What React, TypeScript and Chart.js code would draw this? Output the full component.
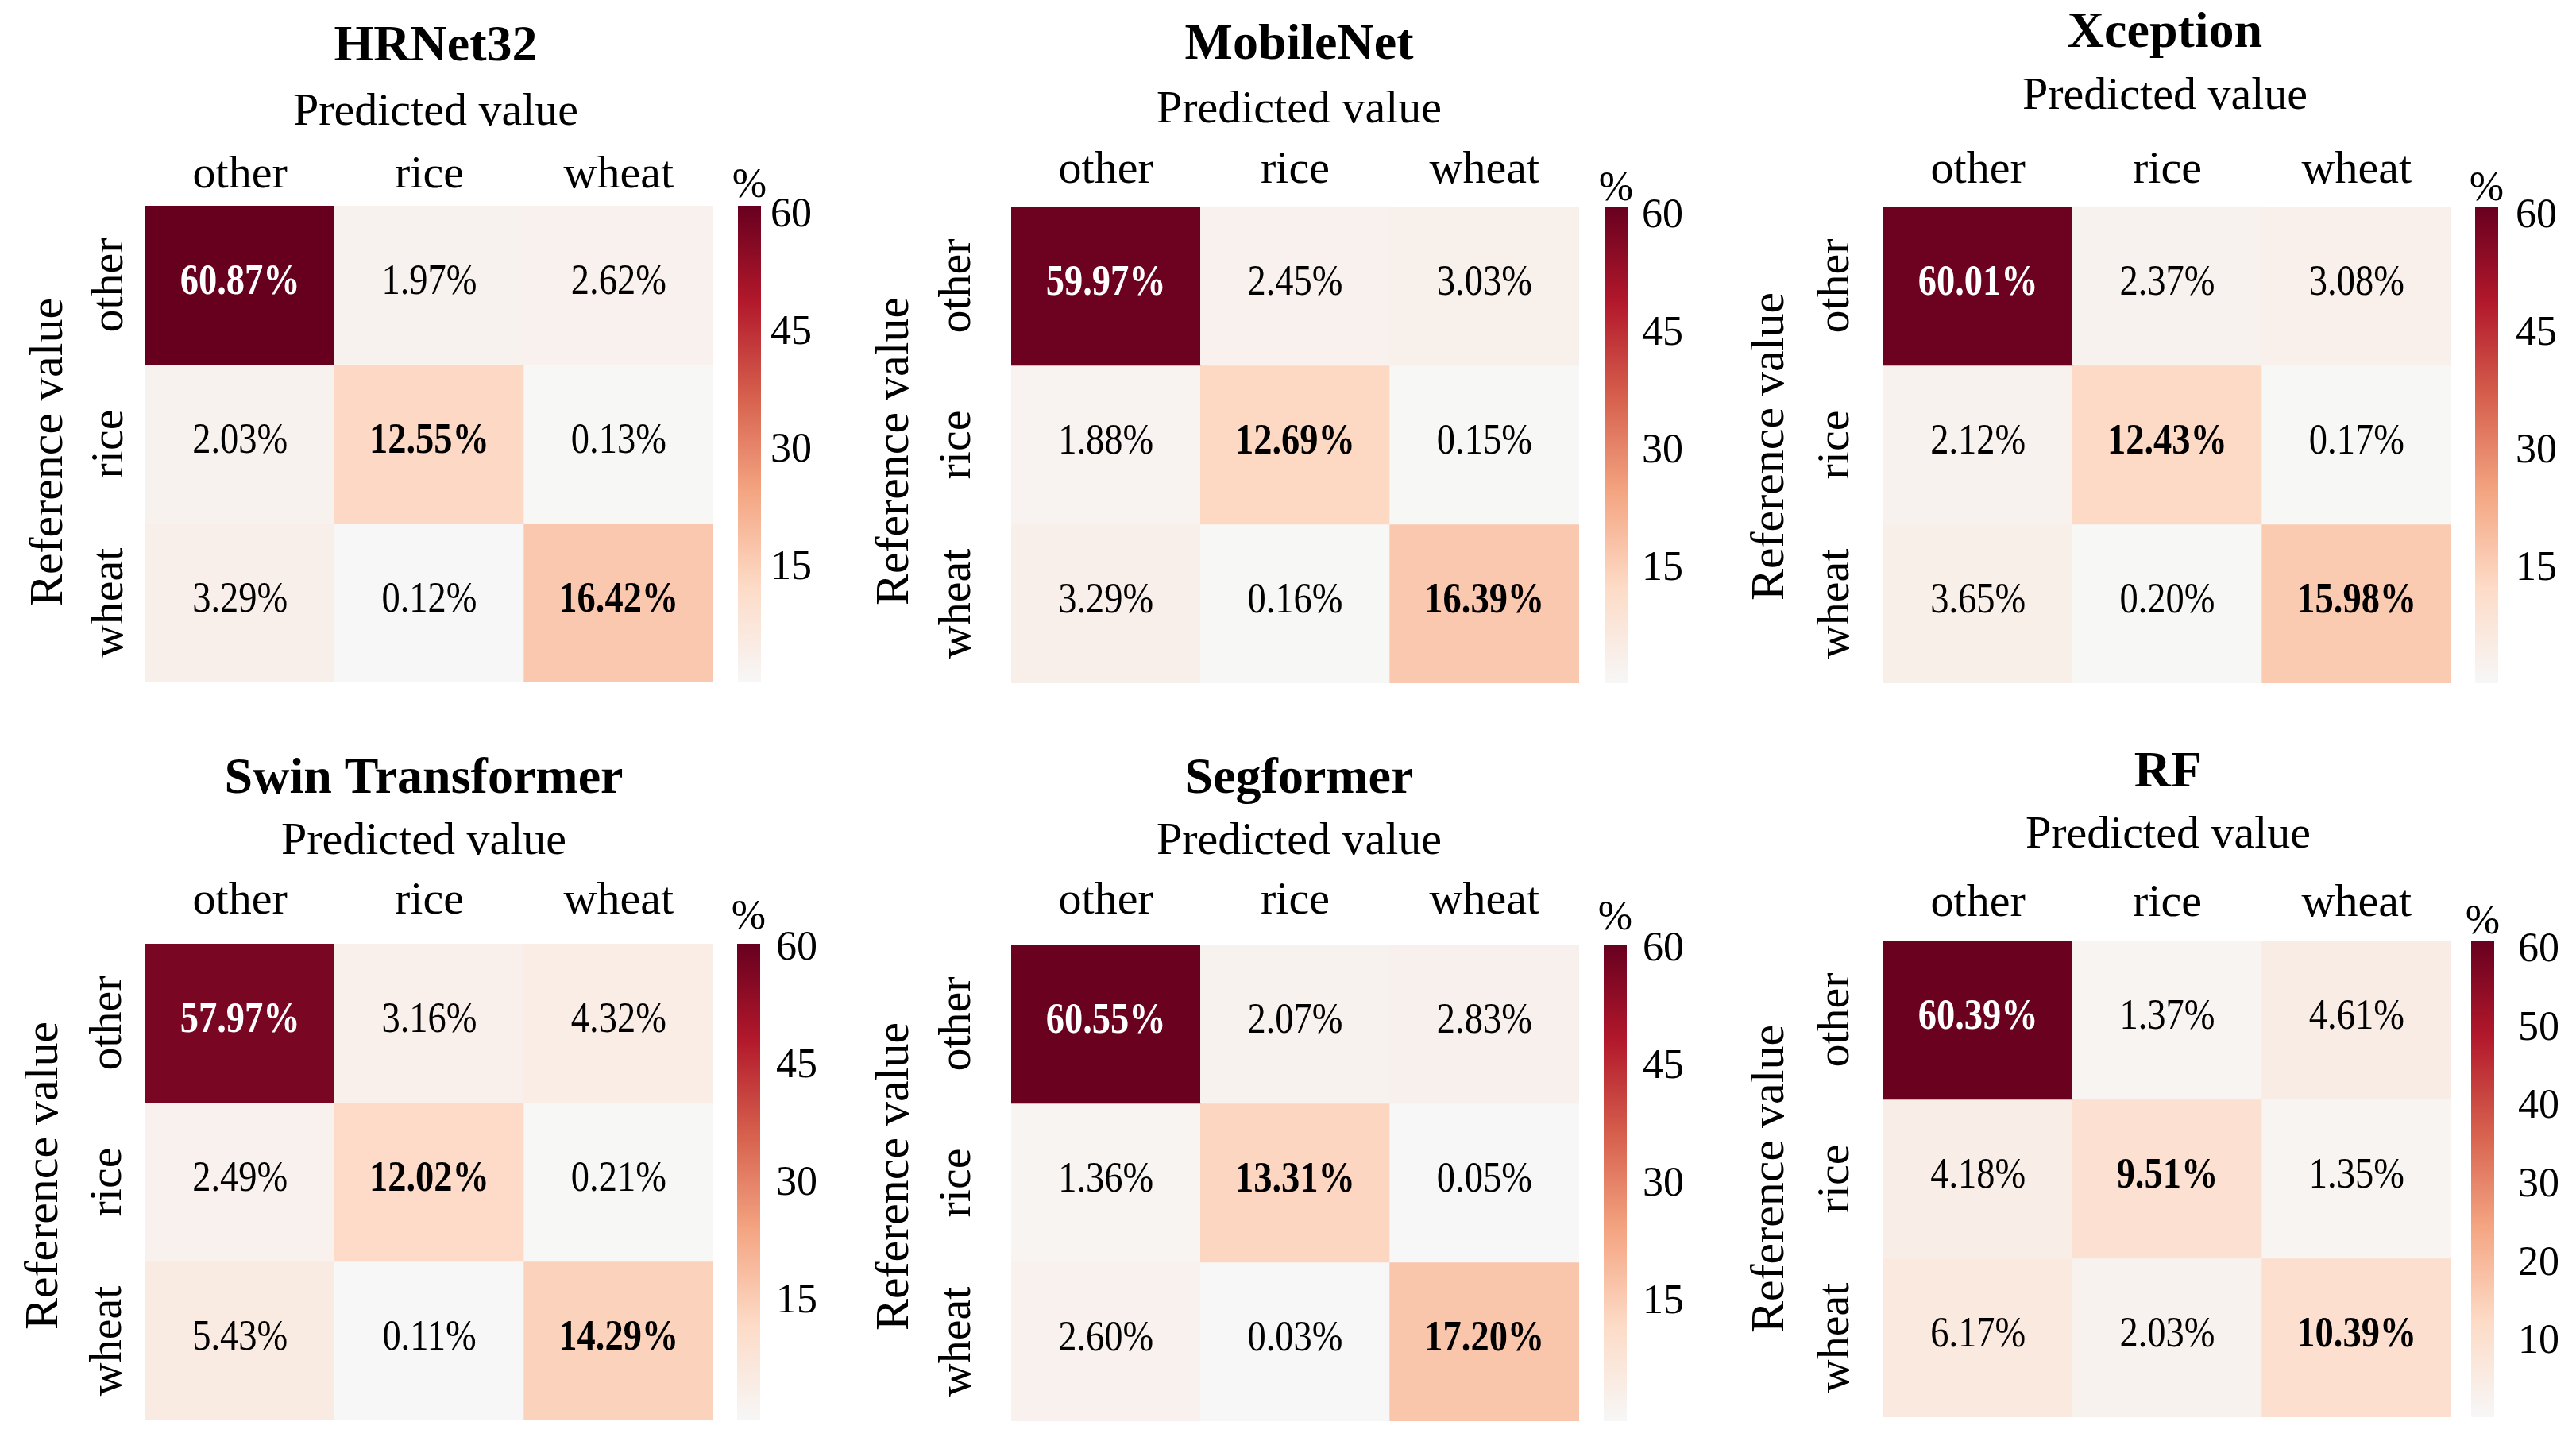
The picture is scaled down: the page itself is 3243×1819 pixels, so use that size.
import React, { useEffect, useRef } from 'react';
import { Chart, registerables } from 'chart.js';

Chart.register(...registerables);

// ---------------- data ----------------
const categories = ['other', 'rice', 'wheat'];
const modelNames = ['HRNet32', 'MobileNet', 'Xception', 'Swin Transformer', 'Segformer', 'RF'];

const hrnet32Values = [
  [60.87, 1.97, 2.62],
  [2.03, 12.55, 0.13],
  [3.29, 0.12, 16.42],
];
const mobileNetValues = [
  [59.97, 2.45, 3.03],
  [1.88, 12.69, 0.15],
  [3.29, 0.16, 16.39],
];
const xceptionValues = [
  [60.01, 2.37, 3.08],
  [2.12, 12.43, 0.17],
  [3.65, 0.2, 15.98],
];
const swinTransformerValues = [
  [57.97, 3.16, 4.32],
  [2.49, 12.02, 0.21],
  [5.43, 0.11, 14.29],
];
const segformerValues = [
  [60.55, 2.07, 2.83],
  [1.36, 13.31, 0.05],
  [2.6, 0.03, 17.2],
];
const rfValues = [
  [60.39, 1.37, 4.61],
  [4.18, 9.51, 1.35],
  [6.17, 2.03, 10.39],
];

const deepColorbarTicks = [15, 30, 45, 60];
const rfColorbarTicks = [10, 20, 30, 40, 50, 60];

const xAxisTitle = 'Predicted value';
const yAxisTitle = 'Reference value';
const colorbarUnit = '%';

const allValues = [hrnet32Values, mobileNetValues, xceptionValues, swinTransformerValues, segformerValues, rfValues];
const allTicks = [deepColorbarTicks, deepColorbarTicks, deepColorbarTicks, deepColorbarTicks, deepColorbarTicks, rfColorbarTicks];

// shared colour range for all panels
const COLOR_MIN = 0;
const COLOR_MAX = Math.max(...allValues.flat(2));

// ---------------- styling / layout ----------------
const SERIF = "'Liberation Serif', 'Times New Roman', Times, serif";
const CMAP = ['#f7f7f7', '#fddbc7', '#f4a582', '#d6604d', '#b2182b', '#67001f'];

const HM_W = 715;
const HM_H = 600;
const CB_W = 29;

const LAYOUT = [
  { left: 183, top: 259, titleDy: 183, subDy: 102, colDy: 18, titleDx: 8, rowDx: 44, refDx: 121, refDy: 10, cbLeft: 929, tickPad: 12, unitDy: 11, tickOff: 4 },
  { left: 1273, top: 260, titleDy: 186, subDy: 106, colDy: 25, titleDx: 5, rowDx: 67, refDx: 146, refDy: 8, cbLeft: 2020, tickPad: 18, unitDy: 8, tickOff: 4 },
  { left: 2371, top: 260, titleDy: 201, subDy: 123, colDy: 25, titleDx: -3, rowDx: 59, refDx: 142, refDy: 2, cbLeft: 3116, tickPad: 22, unitDy: 8, tickOff: 4 },
  { left: 183, top: 1188, titleDy: 190, subDy: 113, colDy: 33, titleDx: -7, rowDx: 46, refDx: 127, refDy: -8, cbLeft: 928, tickPad: 20, unitDy: 19, tickOff: -2 },
  { left: 1273, top: 1189, titleDy: 191, subDy: 114, colDy: 34, titleDx: 5, rowDx: 67, refDx: 146, refDy: -8, cbLeft: 2019, tickPad: 20, unitDy: 19, tickOff: -2 },
  { left: 2371, top: 1184, titleDy: 194, subDy: 117, colDy: 26, titleDx: 1, rowDx: 59, refDx: 142, refDy: 0, cbLeft: 3111, tickPad: 30, unitDy: 9, tickOff: 4 },
];

function hexToRgb(h: string): number[] {
  const n = parseInt(h.slice(1), 16);
  return [(n >> 16) & 255, (n >> 8) & 255, n & 255];
}
const CMAP_RGB = CMAP.map(hexToRgb);

function cmapRgb(t: number): number[] {
  const tt = Math.max(0, Math.min(1, t));
  const n = CMAP_RGB.length - 1;
  const p = tt * n;
  const i = Math.min(Math.floor(p), n - 1);
  const f = p - i;
  const a = CMAP_RGB[i];
  const b = CMAP_RGB[i + 1];
  return [0, 1, 2].map((k) => Math.round(a[k] + (b[k] - a[k]) * f));
}

function rgbStr(c: number[]) {
  return `rgb(${c[0]},${c[1]},${c[2]})`;
}

function luminance(c: number[]) {
  const lin = c.map((v) => {
    const s = v / 255;
    return s <= 0.03928 ? s / 12.92 : Math.pow((s + 0.055) / 1.055, 2.4);
  });
  return 0.2126 * lin[0] + 0.7152 * lin[1] + 0.0722 * lin[2];
}

const HM_PAD_LEFT = 200;
const HM_PAD_TOP = 270;
const X_AXIS_H = 100;

function Panel({ index }: { index: number }) {
  const hmRef = useRef<HTMLCanvasElement | null>(null);
  const cbRef = useRef<HTMLCanvasElement | null>(null);
  const values = allValues[index];
  const name = modelNames[index];
  const lay = LAYOUT[index];
  const tickValues = allTicks[index];

  const vmin = COLOR_MIN;
  const vmax = COLOR_MAX;

  const hmCanvasLeft = lay.left - HM_PAD_LEFT;
  const hmCanvasTop = lay.top - HM_PAD_TOP;
  const hmCanvasW = HM_W + HM_PAD_LEFT + 10;
  const hmCanvasH = HM_H + HM_PAD_TOP + 10;

  const cbPadTop = 80;
  const cbPadBottom = 80;
  const cbPadLeft = 30;
  const cbAxisW = 110;
  const cbCanvasLeft = lay.cbLeft - cbPadLeft;
  const cbCanvasTop = lay.top - cbPadTop;
  const cbCanvasW = cbPadLeft + CB_W + cbAxisW;
  const cbCanvasH = HM_H + cbPadTop + cbPadBottom;

  useEffect(() => {
    if (!hmRef.current || !cbRef.current) return;

    const colorOf = (v: number) => cmapRgb((v - vmin) / (vmax - vmin));

    const annotPlugin = {
      id: 'cmAnnot',
      afterDatasetsDraw(chart: any) {
        const { ctx, chartArea: a, scales } = chart;
        const xs = scales.x;
        const ys = scales.y;
        ctx.save();
        values.forEach((row, i) => {
          row.forEach((v, j) => {
            const cx = xs.getPixelForValue(j);
            const cy = ys.getPixelForValue(i + 0.5);
            const col = colorOf(v);
            ctx.save();
            ctx.translate(cx, cy - 3);
            ctx.scale(0.86, 1);
            ctx.font = `${i === j ? 'bold ' : ''}54px ${SERIF}`;
            ctx.fillStyle = luminance(col) < 0.408 ? '#ffffff' : '#000000';
            ctx.textAlign = 'center';
            ctx.textBaseline = 'middle';
            ctx.fillText(v.toFixed(2) + '%', 0, 0);
            ctx.restore();
          });
        });
        const midX = (a.left + a.right) / 2 + lay.titleDx;
        ctx.fillStyle = '#000';
        ctx.textAlign = 'center';
        ctx.textBaseline = 'alphabetic';
        ctx.font = `bold 64px ${SERIF}`;
        ctx.fillText(name, midX, a.top - lay.titleDy);
        ctx.font = `58px ${SERIF}`;
        ctx.fillText(xAxisTitle, midX, a.top - lay.subDy);
        categories.forEach((cat, i) => {
          ctx.save();
          ctx.translate(a.left - lay.rowDx, ys.getPixelForValue(i + 0.5));
          ctx.rotate(-Math.PI / 2);
          ctx.font = `58px ${SERIF}`;
          ctx.textAlign = 'center';
          ctx.textBaseline = 'middle';
          ctx.fillText(cat, 0, 0);
          ctx.restore();
        });
        ctx.save();
        ctx.translate(a.left - lay.refDx, (a.top + a.bottom) / 2 + lay.refDy);
        ctx.rotate(-Math.PI / 2);
        ctx.font = `60px ${SERIF}`;
        ctx.textAlign = 'center';
        ctx.textBaseline = 'middle';
        ctx.fillText(yAxisTitle, 0, 0);
        ctx.restore();
        ctx.restore();
      },
    };

    const hmChart = new Chart(hmRef.current, {
      type: 'bar',
      data: {
        labels: categories,
        datasets: values.map((row, i) => ({
          data: row.map(() => [i, i + 1]),
          backgroundColor: row.map((v) => rgbStr(colorOf(v))),
          borderWidth: 0,
          grouped: false,
          barPercentage: 1,
          categoryPercentage: 1,
        })) as any,
      },
      options: {
        responsive: false,
        animation: false,
        events: [],
        layout: { padding: { left: HM_PAD_LEFT, right: 10, top: HM_PAD_TOP - X_AXIS_H, bottom: 10 } },
        plugins: { legend: { display: false }, tooltip: { enabled: false }, title: { display: false } },
        scales: {
          x: {
            type: 'category',
            position: 'top',
            offset: true,
            grid: { display: false, drawTicks: false },
            border: { display: false },
            ticks: {
              font: { family: SERIF, size: 58 },
              color: '#000',
              padding: lay.colDy - 15,
              maxRotation: 0,
              autoSkip: false,
            },
            afterFit: (s: any) => {
              s.height = X_AXIS_H;
            },
          },
          y: { type: 'linear', min: 0, max: 3, reverse: true, display: false },
        },
      } as any,
      plugins: [annotPlugin],
    });

    const unitPlugin = {
      id: 'cbUnit',
      afterDraw(chart: any) {
        const { ctx, chartArea: a } = chart;
        ctx.save();
        ctx.font = `52px ${SERIF}`;
        ctx.fillStyle = '#000';
        ctx.textAlign = 'center';
        ctx.textBaseline = 'alphabetic';
        ctx.fillText(colorbarUnit, (a.left + a.right) / 2, a.top - lay.unitDy);
        ctx.restore();
      },
    };

    const cbChart = new Chart(cbRef.current, {
      type: 'bar',
      data: {
        labels: [''],
        datasets: [
          {
            data: [[vmin, vmax]],
            backgroundColor: (c: any) => {
              const ch = c.chart;
              if (!ch.chartArea) return CMAP[0];
              const ys = ch.scales.y;
              const g = ch.ctx.createLinearGradient(0, ys.getPixelForValue(vmin), 0, ys.getPixelForValue(vmax));
              CMAP.forEach((col, k) => g.addColorStop(k / (CMAP.length - 1), col));
              return g;
            },
            borderWidth: 0,
            barPercentage: 1,
            categoryPercentage: 1,
          },
        ] as any,
      },
      options: {
        responsive: false,
        animation: false,
        events: [],
        layout: { padding: { left: cbPadLeft, right: 0, top: cbPadTop, bottom: cbPadBottom } },
        plugins: { legend: { display: false }, tooltip: { enabled: false } },
        scales: {
          x: { display: false },
          y: {
            type: 'linear',
            position: 'right',
            min: vmin,
            max: vmax,
            grid: { display: false, drawTicks: false },
            border: { display: false },
            ticks: {
              font: { family: SERIF, size: 52 },
              color: '#000',
              padding: lay.tickPad,
              labelOffset: lay.tickOff,
            },
            afterBuildTicks: (s: any) => {
              s.ticks = tickValues.map((v) => ({ value: v }));
            },
            afterFit: (s: any) => {
              s.width = cbAxisW;
            },
          },
        },
      } as any,
      plugins: [unitPlugin],
    });

    return () => {
      hmChart.destroy();
      cbChart.destroy();
    };
  }, []);

  return (
    <>
      <canvas
        ref={hmRef}
        width={hmCanvasW}
        height={hmCanvasH}
        style={{ position: 'absolute', left: hmCanvasLeft, top: hmCanvasTop, width: hmCanvasW, height: hmCanvasH }}
      />
      <canvas
        ref={cbRef}
        width={cbCanvasW}
        height={cbCanvasH}
        style={{ position: 'absolute', left: cbCanvasLeft, top: cbCanvasTop, width: cbCanvasW, height: cbCanvasH }}
      />
    </>
  );
}

export default function App() {
  return (
    <div
      style={{
        position: 'fixed',
        left: 0,
        top: 0,
        width: 3243,
        height: 1819,
        background: '#ffffff',
        overflow: 'hidden',
        fontFamily: SERIF,
      }}
    >
      {modelNames.map((_, i) => (
        <Panel key={i} index={i} />
      ))}
    </div>
  );
}
